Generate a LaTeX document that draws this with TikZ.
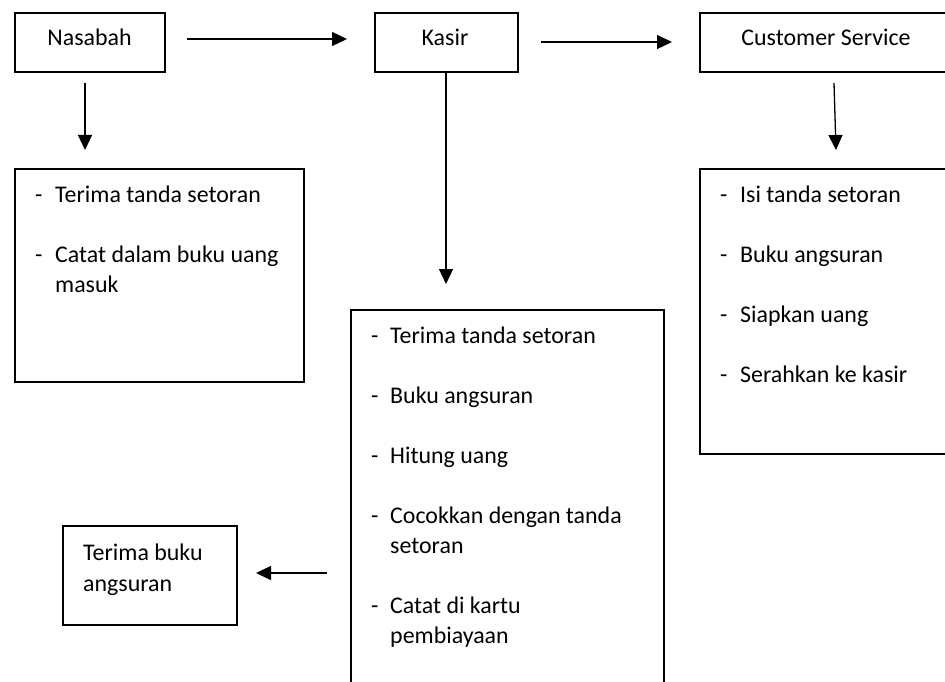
\documentclass[tikz,border=0pt]{standalone}
\usepackage{fontspec}
\setmainfont{Carlito}
\usetikzlibrary{arrows.meta}
\begin{document}
\begin{tikzpicture}[x=1pt,y=-1pt,
  box/.style={draw=black,line width=1.7pt,inner sep=0pt,anchor=north west},
  lbl/.style={inner sep=0pt,anchor=base west,font=\fontsize{23.9}{30}\selectfont},
  clbl/.style={inner sep=0pt,anchor=base,font=\fontsize{23.9}{30}\selectfont},
  arr/.style={line width=1.3pt,-{Triangle[length=15pt,width=14pt]}}]
\useasboundingbox (0,0) rectangle (945,682);
\clip (0,0) rectangle (945,682);
% top row boxes
\node[box,minimum width=150pt,minimum height=59pt] (nasabah) at (14,12) {};
\node[box,minimum width=143pt,minimum height=59pt] (kasir) at (374,12) {};
\node[box,minimum width=254pt,minimum height=59pt] (cs) at (699,12) {};
\node[clbl] (tNasabah) at (89.5,46) {Nasabah};
\node[clbl] (tKasir) at (445,46) {Kasir};
\node[clbl] (tCs) at (826,46) {Customer Service};
% lower boxes
\node[box,minimum width=289pt,minimum height=213pt] (nasbox) at (14,168) {};
\node[box,minimum width=313pt,minimum height=400pt] (kasbox) at (350,309) {};
\node[box,minimum width=254pt,minimum height=285pt] (csbox) at (699,168) {};
\node[box,minimum width=174pt,minimum height=99pt] (terima) at (62,525) {};
% Nasabah list
\node[lbl] (n1d) at (35,202) {-};
\node[lbl] (n1) at (55,202) {Terima tanda setoran};
\node[lbl] (n2d) at (35,262) {-};
\node[lbl] (n2) at (55,262) {Catat dalam buku uang};
\node[lbl] (n2b) at (55,292) {masuk};
% Kasir list
\node[lbl] (k1d) at (371,343) {-};
\node[lbl] (k1) at (390,343) {Terima tanda setoran};
\node[lbl] (k2d) at (371,403) {-};
\node[lbl] (k2) at (390,403) {Buku angsuran};
\node[lbl] (k3d) at (371,463) {-};
\node[lbl] (k3) at (390,463) {Hitung uang};
\node[lbl] (k4d) at (371,523) {-};
\node[lbl] (k4) at (390,523) {Cocokkan dengan tanda};
\node[lbl] (k4b) at (390,553) {setoran};
\node[lbl] (k5d) at (371,613) {-};
\node[lbl] (k5) at (390,613) {Catat di kartu};
\node[lbl] (k5b) at (390,643) {pembiayaan};
% CS list
\node[lbl] (c1d) at (720,202) {-};
\node[lbl] (c1) at (740,202) {Isi tanda setoran};
\node[lbl] (c2d) at (720,262) {-};
\node[lbl] (c2) at (740,262) {Buku angsuran};
\node[lbl] (c3d) at (720,322) {-};
\node[lbl] (c3) at (740,322) {Siapkan uang};
\node[lbl] (c4d) at (720,382) {-};
\node[lbl] (c4) at (740,382) {Serahkan ke kasir};
% Terima buku angsuran
\node[lbl] (t1) at (83,560) {Terima buku};
\node[lbl] (t2) at (83,591) {angsuran};
% arrow end points
\coordinate (a1s) at (187,39);  \coordinate (a1e) at (347,39);
\coordinate (a2s) at (541,42);  \coordinate (a2e) at (672,42);
\coordinate (a3s) at (85,83);   \coordinate (a3e) at (85,150);
\coordinate (a4s) at (834,83);  \coordinate (a4e) at (836,150);
\coordinate (a5s) at (446,71);  \coordinate (a5e) at (446,284);
\coordinate (a6s) at (327,573); \coordinate (a6e) at (256,573);
\draw[arr] (a1s) -- (a1e);
\draw[arr] (a2s) -- (a2e);
\draw[arr] (a3s) -- (a3e);
\draw[arr] (a4s) -- (a4e);
\draw[arr] (a5s) -- (a5e);
\draw[arr] (a6s) -- (a6e);
\end{tikzpicture}
\end{document}
